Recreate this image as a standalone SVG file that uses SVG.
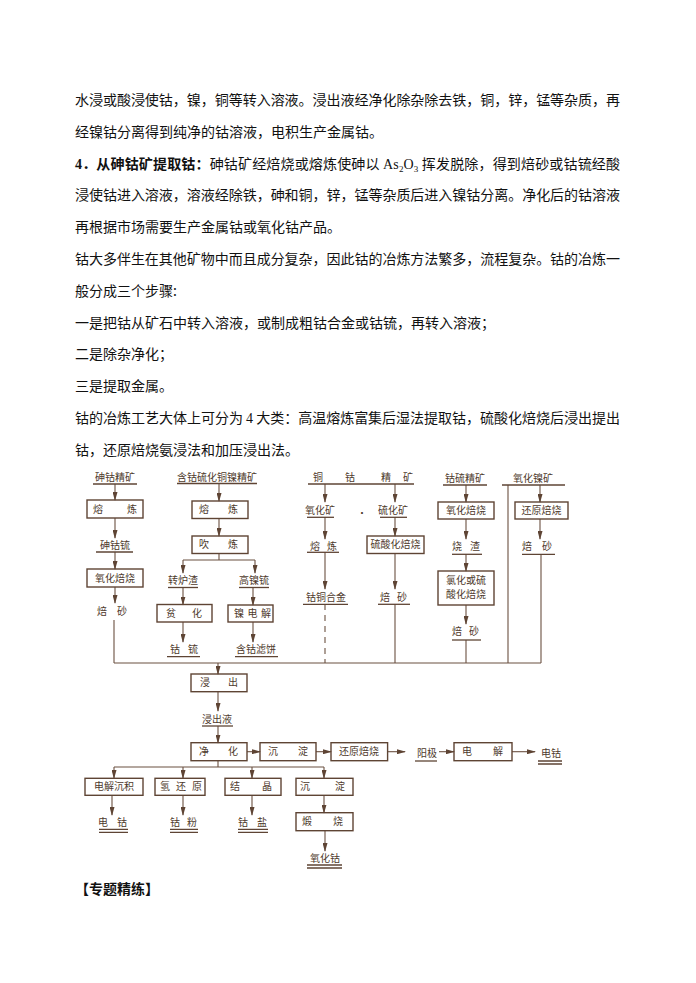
<svg xmlns="http://www.w3.org/2000/svg" width="696" height="983" viewBox="0 0 696 983">
<defs>
<style>
.p{font-family:"Noto Sans CJK SC","Noto Sans",sans-serif;font-size:14px;fill:#111}
.b{font-weight:bold}
.lat{font-family:"Liberation Serif",serif}
.t{font-family:"Noto Sans CJK SC",sans-serif;font-size:10px;fill:#4e3a2c;text-anchor:middle}
.box{fill:none;stroke:#5e4434;stroke-width:1.4}
.ln{fill:none;stroke:#6b5040;stroke-width:1.1}
.ar{fill:none;stroke:#6b5040;stroke-width:1.1;marker-end:url(#ah)}
.ul{fill:none;stroke:#5e4434;stroke-width:1.3}
</style>
<marker id="ah" markerUnits="userSpaceOnUse" markerWidth="9" markerHeight="5" refX="8" refY="2.5" orient="auto">
<path d="M0,0 L9,2.5 L0,5 z" fill="#5e4434"/>
</marker>
</defs>
<rect width="696" height="983" fill="#fff"/>

<g id="body-text">
<text class="p" x="75" y="105" textLength="545" lengthAdjust="spacing">水浸或酸浸使钴，镍，铜等转入溶液。浸出液经净化除杂除去铁，铜，锌，锰等杂质，再</text>
<text class="p" x="75" y="137">经镍钴分离得到纯净的钴溶液，电积生产金属钴。</text>
<text class="p" x="75" y="169" textLength="545" lengthAdjust="spacing"><tspan class="b lat">4</tspan><tspan class="b">．从砷钴矿提取钴：</tspan>砷钴矿经焙烧或熔炼使砷以 <tspan class="lat">As</tspan><tspan class="lat" font-size="9" dy="3">2</tspan><tspan class="lat" dy="-3">O</tspan><tspan class="lat" font-size="9" dy="3">3</tspan><tspan dy="-3"> 挥发脱除，得到焙砂或钴锍经酸</tspan></text>
<text class="p" x="75" y="200" textLength="545" lengthAdjust="spacing">浸使钴进入溶液，溶液经除铁，砷和铜，锌，锰等杂质后进入镍钴分离。净化后的钴溶液</text>
<text class="p" x="75" y="232">再根据市场需要生产金属钴或氧化钴产品。</text>
<text class="p" x="75" y="264" textLength="545" lengthAdjust="spacing">钴大多伴生在其他矿物中而且成分复杂，因此钴的冶炼方法繁多，流程复杂。钴的冶炼一</text>
<text class="p" x="75" y="296">般分成三个步骤:</text>
<text class="p" x="75" y="328">一是把钴从矿石中转入溶液，或制成粗钴合金或钴锍，再转入溶液；</text>
<text class="p" x="75" y="359">二是除杂净化；</text>
<text class="p" x="75" y="391">三是提取金属。</text>
<text class="p" x="75" y="423" textLength="545" lengthAdjust="spacing">钴的冶炼工艺大体上可分为 <tspan class="lat">4</tspan> 大类：高温熔炼富集后湿法提取钴，硫酸化焙烧后浸出提出</text>
<text class="p" x="75" y="455">钴，还原焙烧氨浸法和加压浸出法。</text>
<text class="p b" x="75" y="894" font-size="16">【专题精练】</text>
</g>

<g id="connectors">
<path class="ar" d="M115,484 V500"/>
<path class="ar" d="M115,518 V538"/>
<path class="ar" d="M115,552 V569"/>
<path class="ar" d="M115,587 V603"/>
<path class="ln" d="M114,620 V663"/>
<path class="ar" d="M219,483 V501"/>
<path class="ar" d="M219,518 V536"/>
<path class="ln" d="M219,553.5 V560 M183,560 H255"/>
<path class="ar" d="M183,560 V573"/>
<path class="ar" d="M255,560 V573"/>
<path class="ar" d="M183,588 V604.5"/>
<path class="ar" d="M253,588 V605"/>
<path class="ar" d="M183,622 V642"/>
<path class="ar" d="M253,622 V642"/>
<path class="ar" d="M325,484 V502"/>
<path class="ar" d="M395,484 V502"/>
<path class="ar" d="M325,517 V539"/>
<path class="ar" d="M395,517 V536"/>
<path class="ar" d="M325,552 V589"/>
<path class="ar" d="M395,553.5 V589"/>
<path class="ln" d="M325,604 V663" stroke-dasharray="6 5"/>
<path class="ln" d="M395,604 V663"/>
<path class="ar" d="M466,485 V502"/>
<path class="ar" d="M466,519 V539"/>
<path class="ar" d="M466,554 V571"/>
<path class="ar" d="M466,605 V624"/>
<path class="ln" d="M466,640 V663"/>
<path class="ln" d="M508,485 V663"/>
<path class="ar" d="M540,485 V502"/>
<path class="ar" d="M540,519 V539"/>
<path class="ln" d="M541,554 V663"/>
<path class="ln" d="M114,663 H541"/>
<path class="ar" d="M218,663 V674"/>
<path class="ar" d="M218,691.7 V711"/>
<path class="ar" d="M218,726 V742.7"/>
<path class="ar" d="M247,751.7 H260"/>
<path class="ar" d="M316,751.7 H331"/>
<path class="ar" d="M387.6,751.7 H405"/>
<path class="ar" d="M439,751.7 H454"/>
<path class="ar" d="M512,751.7 H535"/>
<path class="ln" d="M218,760.7 V767 M114,767 H324"/>
<path class="ar" d="M114,767 V778"/>
<path class="ar" d="M183,767 V778"/>
<path class="ar" d="M252,767 V778"/>
<path class="ar" d="M324,767 V778"/>
<path class="ar" d="M112,795 V815"/>
<path class="ar" d="M183,795 V815"/>
<path class="ar" d="M252,795 V815"/>
<path class="ar" d="M324,795 V812.7"/>
<path class="ar" d="M325,831 V851"/>
</g>

<g id="n-shenguijingkuang"><text class="t" x="115" y="480.5">砷钴精矿</text><path class="ul" d="M93,484 H137"/></g>
<g id="n-rongliang1"><rect class="box" x="87" y="500" width="56" height="18"/><text class="t" x="98 132" y="512.5">熔炼</text></g>
<g id="n-shenguliu"><text class="t" x="115" y="548.5">砷钴锍</text><path class="ul" d="M96,552 H133"/></g>
<g id="n-yanghuabeishao1"><rect class="box" x="87" y="569" width="56" height="18"/><text class="t" x="115" y="581.5">氧化焙烧</text></g>
<g id="n-beisha1"><text class="t" x="102 122" y="614.5">焙砂</text></g>

<g id="n-hangu"><text class="t" x="217" y="480.5">含钴硫化铜镍精矿</text><path class="ul" d="M177,483.5 H257"/></g>
<g id="n-rongliang2"><rect class="box" x="192" y="501" width="56" height="17.5"/><text class="t" x="204 233" y="513.2">熔炼</text></g>
<g id="n-chuilian"><rect class="box" x="192" y="536" width="56" height="17.5"/><text class="t" x="204 233" y="548.2">吹炼</text></g>
<g id="n-zhuanluzha"><text class="t" x="183" y="583.5">转炉渣</text><path class="ul" d="M168,587.5 H198"/></g>
<g id="n-gaonieliu"><text class="t" x="254" y="584">高镍锍</text><path class="ul" d="M239,587.5 H269"/></g>
<g id="n-pinhua"><rect class="box" x="157" y="604.5" width="55" height="17.5"/><text class="t" x="171 197" y="616.7">贫化</text></g>
<g id="n-niedianjie"><rect class="box" x="228" y="605" width="45" height="17"/><text class="t" x="239 252.5 266" y="617">镍电解</text></g>
<g id="n-guliu"><text class="t" x="175 193" y="652.5">钴锍</text><path class="ul" d="M167,656.7 H200"/></g>
<g id="n-hanguluibing"><text class="t" x="256" y="652.5">含钴滤饼</text><path class="ul" d="M235,656.7 H278"/></g>

<g id="n-tonggujingkuang"><text class="t" x="318 350 386 408" y="481">铜钴精矿</text><path class="ul" d="M308,484 H414"/></g>
<g id="n-yanghuakuang"><text class="t" x="320" y="514">氧化矿</text><path class="ul" d="M307,517.3 H334"/></g>
<g id="n-dot"><text class="t" x="362" y="517">·</text></g>
<g id="n-liuhuakuang"><text class="t" x="393" y="514">硫化矿</text><path class="ul" d="M380,517.3 H407"/></g>
<g id="n-rongliang3"><text class="t" x="315 332" y="549.5">熔炼</text><path class="ul" d="M307,552.3 H339"/></g>
<g id="n-liusuanhua"><rect class="box" x="367" y="536" width="57" height="17.5"/><text class="t" x="395.5" y="548.2">硫酸化焙烧</text></g>
<g id="n-gutonghejin"><text class="t" x="326" y="600.5">钴铜合金</text><path class="ul" d="M303,604.3 H348"/></g>
<g id="n-beisha3"><text class="t" x="385 402" y="600.5">焙砂</text><path class="ul" d="M378,604.3 H410"/></g>

<g id="n-guliujingkuang"><text class="t" x="465" y="481.5">钴硫精矿</text><path class="ul" d="M443,485 H487"/></g>
<g id="n-yanghuabeishao4"><rect class="box" x="438" y="502" width="56" height="17"/><text class="t" x="466" y="514.2">氧化焙烧</text></g>
<g id="n-shaozha"><text class="t" x="457 475" y="549.5">烧渣</text><path class="ul" d="M452,554.3 H482"/></g>
<g id="n-lvhua"><rect class="box" x="438" y="571" width="56" height="34"/><text class="t" x="466" y="584" font-size="9">氯化或硫</text><text class="t" x="466" y="598" font-size="9">酸化焙烧</text></g>
<g id="n-beisha4"><text class="t" x="457 474" y="635.2">焙砂</text><path class="ul" d="M452,640 H481"/></g>

<g id="n-yanghuaniekuang"><text class="t" x="533" y="481.5">氧化镍矿</text><path class="ul" d="M502,485 H565"/></g>
<g id="n-huanyuanbeishao5"><rect class="box" x="515" y="502" width="53" height="17"/><text class="t" x="541.5" y="514.2">还原焙烧</text></g>
<g id="n-beisha5"><text class="t" x="527 547" y="549.5">焙砂</text><path class="ul" d="M522,554.3 H555"/></g>

<g id="n-jinchu"><rect class="box" x="191" y="674" width="56" height="17.7"/><text class="t" x="205 233" y="686.4">浸出</text></g>
<g id="n-jinchuye"><text class="t" x="217" y="722.5">浸出液</text><path class="ul" d="M202,726 H233"/></g>
<g id="n-jinghua"><rect class="box" x="191" y="742.7" width="56" height="18"/><text class="t" x="204 233" y="755.2">净化</text></g>
<g id="n-chendian1"><rect class="box" x="260" y="742.7" width="56" height="18"/><text class="t" x="273 303" y="755.2">沉淀</text></g>
<g id="n-huanyuanbeishao"><rect class="box" x="331" y="742.7" width="56.6" height="18"/><text class="t" x="359" y="755.2">还原焙烧</text></g>
<g id="n-yangji"><text class="t" x="427" y="756.5">阳极</text><path class="ul" d="M415,761 H437"/></g>
<g id="n-dianjie"><rect class="box" x="454" y="742.7" width="58" height="18"/><text class="t" x="467 498" y="755.2">电解</text></g>
<g id="n-diangu1"><text class="t" x="551" y="756.5">电钴</text><path class="ul" d="M538,761 H562 M538,764 H562"/></g>

<g id="n-dianjiechenji"><rect class="box" x="85" y="778.3" width="58" height="17"/><text class="t" x="114" y="790.2">电解沉积</text></g>
<g id="n-qinghuanyuan"><rect class="box" x="155" y="778.3" width="50" height="17"/><text class="t" x="165 181 197" y="790.2">氢还原</text></g>
<g id="n-jiejing"><rect class="box" x="225" y="778.3" width="56" height="17"/><text class="t" x="235 267" y="790.2">结晶</text></g>
<g id="n-chendian2"><rect class="box" x="296" y="778.3" width="57" height="17"/><text class="t" x="305 340" y="790.2">沉淀</text></g>
<g id="n-diangu2"><text class="t" x="103 122" y="826.2">电钴</text><path class="ul" d="M99,829.3 H128 M99,832.3 H128"/></g>
<g id="n-gufen"><text class="t" x="175 192" y="826.2">钴粉</text><path class="ul" d="M170,829.3 H198 M170,832.3 H198"/></g>
<g id="n-guyan"><text class="t" x="243 262" y="826.2">钴盐</text><path class="ul" d="M238,829.3 H268 M238,832.3 H268"/></g>
<g id="n-duanshao"><rect class="box" x="296" y="812.7" width="57" height="18"/><text class="t" x="307 338" y="825.2">煅烧</text></g>
<g id="n-yanghuagu"><text class="t" x="325" y="861.5">氧化钴</text><path class="ul" d="M307,865 H342 M307,868 H342"/></g>
</svg>
